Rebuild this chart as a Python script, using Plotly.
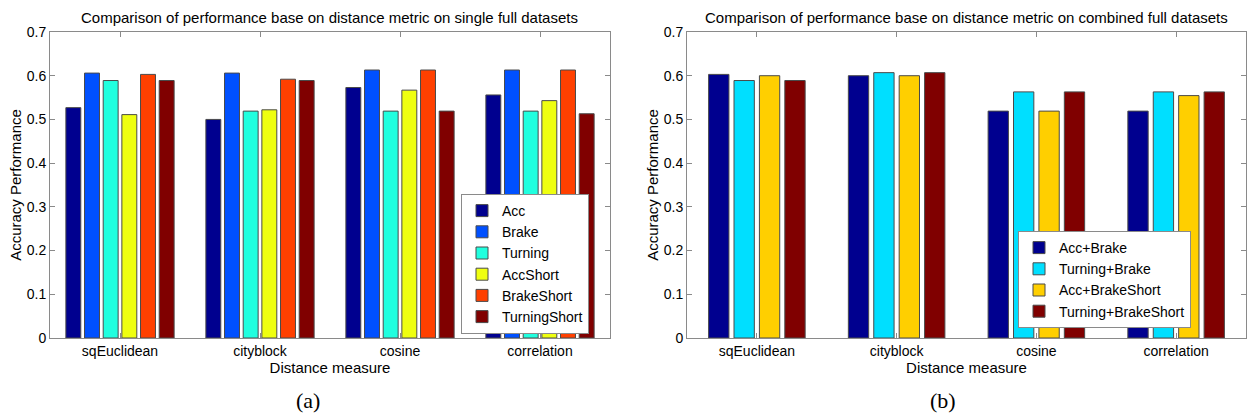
import plotly.graph_objects as go

categories = ["sqEuclidean", "cityblock", "cosine", "correlation"]

# Panel (a): single full datasets
single_names = ["Acc", "Brake", "Turning", "AccShort", "BrakeShort", "TurningShort"]
acc = [0.527, 0.500, 0.573, 0.556]
brake = [0.606, 0.606, 0.613, 0.613]
turning = [0.589, 0.519, 0.519, 0.519]
acc_short = [0.511, 0.522, 0.567, 0.543]
brake_short = [0.603, 0.592, 0.613, 0.613]
turning_short = [0.589, 0.589, 0.519, 0.513]
single_values = [acc, brake, turning, acc_short, brake_short, turning_short]
single_colors = ["#00008F", "#0050FF", "#20FFDF", "#EFFF10", "#FF4000", "#800000"]

# Panel (b): combined full datasets
combined_names = ["Acc+Brake", "Turning+Brake", "Acc+BrakeShort", "Turning+BrakeShort"]
acc_brake = [0.603, 0.600, 0.519, 0.519]
turning_brake = [0.589, 0.607, 0.563, 0.563]
acc_brake_short = [0.600, 0.600, 0.519, 0.5545]
turning_brake_short = [0.589, 0.607, 0.563, 0.563]
combined_values = [acc_brake, turning_brake, acc_brake_short, turning_brake_short]
combined_colors = ["#00008F", "#00DFFF", "#FFCF00", "#800000"]

yticks = [0, 0.1, 0.2, 0.3, 0.4, 0.5, 0.6, 0.7]
ytick_text = ["0", "0.1", "0.2", "0.3", "0.4", "0.5", "0.6", "0.7"]

FONT = "Liberation Sans, Arial, Helvetica, sans-serif"
W, H = 1248, 418
fig = go.Figure()


def add_group(names, values, colors, xa, ya, legend):
    n = len(names)
    gw = min(0.8, n / (n + 1.5))
    pitch = gw / n
    bw = 0.8 * pitch
    for i, (nm, vals, col) in enumerate(zip(names, values, colors)):
        off = -gw / 2 + (i + 0.5) * pitch - bw / 2
        fig.add_trace(go.Bar(
            x=categories, y=vals, name=nm,
            width=bw, offset=off,
            marker=dict(color=col, line=dict(color="#4a4a4a", width=1)),
            xaxis=xa, yaxis=ya, legend=legend,
        ))


add_group(single_names, single_values, single_colors, "x", "y", "legend")
add_group(combined_names, combined_values, combined_colors, "x2", "y2", "legend2")

ydom = [(H - 338) / H, (H - 32) / H]
axis_common = dict(
    showline=True, linecolor="#8a8a8a", linewidth=1, mirror="ticks",
    ticks="inside", ticklen=5, tickcolor="#8a8a8a",
    showgrid=False, zeroline=False, automargin=False,
    tickfont=dict(family=FONT, size=14, color="black"),
)
xtitle = dict(text="Distance measure", font=dict(family=FONT, size=15), standoff=0)
ytitle = dict(text="Accuracy Performance", font=dict(family=FONT, size=15), standoff=1)
legend_common = dict(
    xanchor="right", yanchor="bottom",
    bgcolor="white", bordercolor="#8a8a8a", borderwidth=1,
    font=dict(family=FONT, size=14, color="black"),
    tracegroupgap=0, itemwidth=30,
)

fig.update_layout(
    width=W, height=H,
    margin=dict(l=0, r=0, t=0, b=0, pad=0, autoexpand=False),
    paper_bgcolor="white", plot_bgcolor="white",
    barmode="overlay",
    font=dict(family=FONT, color="black"),
    xaxis=dict(domain=[50 / W, 610 / W], range=[-0.5, 3.5], anchor="y",
               title=xtitle, **axis_common),
    yaxis=dict(domain=ydom, range=[0, 0.7], anchor="x",
               tickvals=yticks, ticktext=ytick_text, title=ytitle, **axis_common),
    xaxis2=dict(domain=[687 / W, 1246 / W], range=[-0.5, 3.5], anchor="y2",
                title=xtitle, **axis_common),
    yaxis2=dict(domain=ydom, range=[0, 0.7], anchor="x2",
                tickvals=yticks, ticktext=ytick_text, title=ytitle, **axis_common),
    legend=dict(x=589 / W, y=(H - 334) / H, **legend_common),
    legend2=dict(x=1191 / W, y=(H - 328) / H, **legend_common),
    annotations=[
        dict(text="Comparison of performance base on distance metric on single full datasets",
             x=329 / W, y=(H - 17) / H, xref="paper", yref="paper",
             xanchor="center", yanchor="middle", showarrow=False,
             font=dict(family=FONT, size=15)),
        dict(text="Comparison of performance base on distance metric on combined full datasets",
             x=966 / W, y=(H - 17) / H, xref="paper", yref="paper",
             xanchor="center", yanchor="middle", showarrow=False,
             font=dict(family=FONT, size=15)),
        dict(text="(a)", x=308 / W, y=(H - 400) / H, xref="paper", yref="paper",
             xanchor="center", yanchor="middle", showarrow=False,
             font=dict(family="Liberation Serif, Times New Roman, serif", size=22)),
        dict(text="(b)", x=943 / W, y=(H - 400) / H, xref="paper", yref="paper",
             xanchor="center", yanchor="middle", showarrow=False,
             font=dict(family="Liberation Serif, Times New Roman, serif", size=22)),
    ],
)

fig.write_html(
    "out.html",
    config={"displayModeBar": False},
    post_script="document.body.style.margin='0';document.body.style.overflow='hidden';",
)
